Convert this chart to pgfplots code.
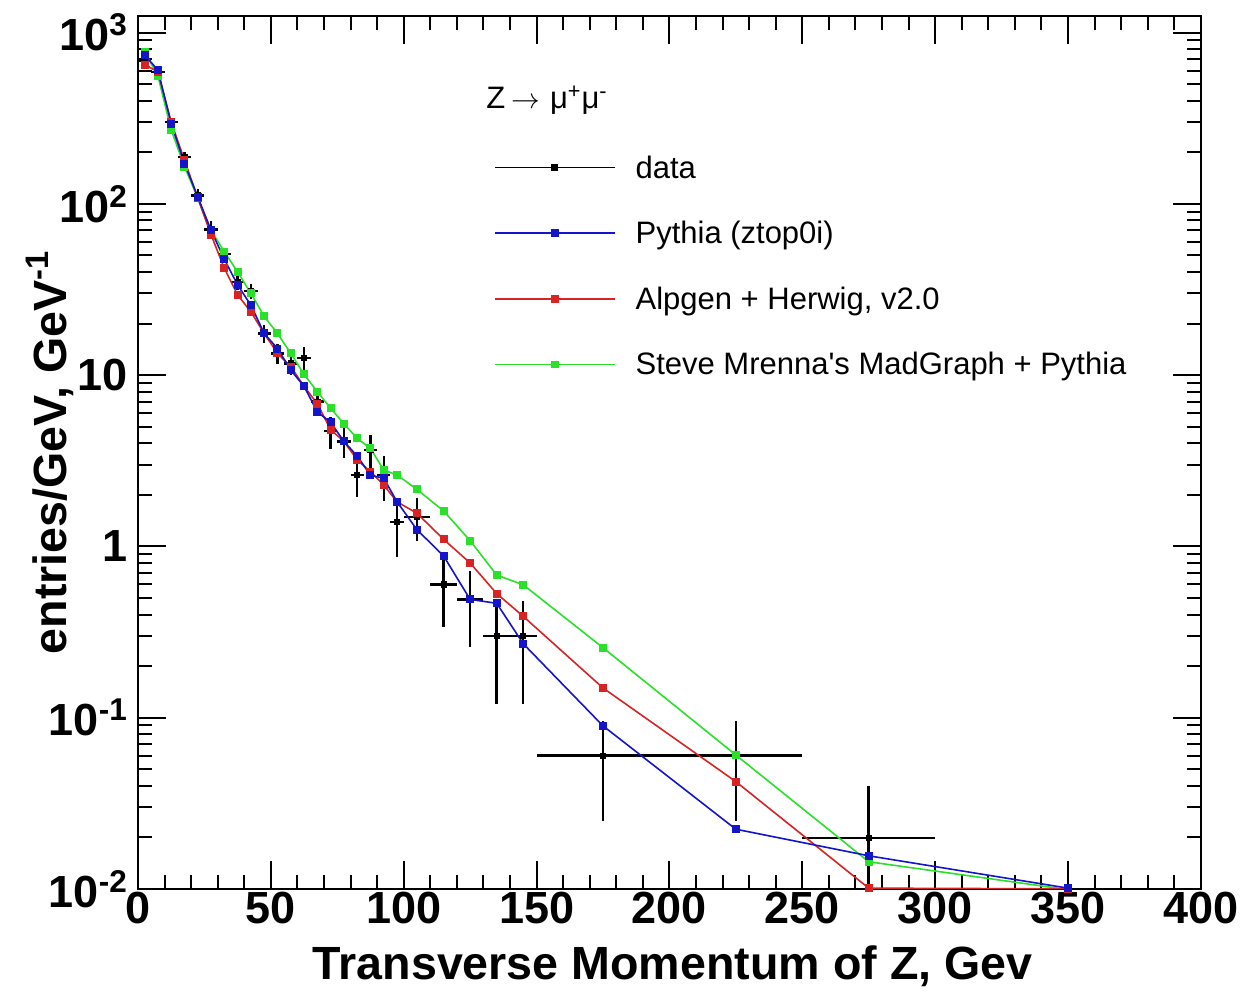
\documentclass[border=0pt]{standalone}
\usepackage{fontspec}
\setmainfont{Liberation Sans}
\usepackage{pgfplots}
\pgfplotsset{compat=1.18}
\usepackage{pgfplotstable}

\definecolor{rblue}{RGB}{20,20,200}
\definecolor{rred}{RGB}{215,35,35}
\definecolor{rgreen}{RGB}{40,225,40}

\pgfplotstableread{
x     y      ex   ey    eym
2.5   680    2.5  30    30
7.5   590    2.5  25    25
12.5  300    2.5  17    17
17.5  188    2.5  14    14
22.5  112    2.5  10    10
27.5  71     2.5  8     8
32.5  51     2.5  4.5   4.5
37.5  35     2.5  3.5   3.5
42.5  31     2.5  3.2   3.2
47.5  17.5   2.5  2.2   2.2
52.5  13.4   2.5  1.8   1.8
57.5  11.7   2.5  1.7   1.7
62.5  12.6   2.5  1.9   1.9
67.5  7.0    2.5  1.0   1.0
72.5  4.7    2.5  1.0   1.0
77.5  4.1    2.5  0.8   0.8
82.5  2.6    2.5  0.65  0.65
87.5  3.66   2.5  0.78  0.78
92.5  2.6    2.5  0.75  0.75
97.5  1.39   2.5  0.52  0.52
105   1.49   5    0.42  0.42
115   0.60   5    0.26  0.26
125   0.49   5    0.23  0.23
135   0.30   5    0.18  0.18
145   0.30   5    0.18  0.18
175   0.060  25   0.035 0.035
225   0.060  25   0.035 0.035
275   0.0198 25   0.020 0.0196
}\datatab

\pgfplotstableread{
x y
2.5 740
7.5 604
12.5 294
17.5 172
22.5 110
27.5 70
32.5 47.5
37.5 33.6
42.5 25.6
47.5 17.5
52.5 14.3
57.5 10.7
62.5 8.6
67.5 6.1
72.5 5.3
77.5 4.1
82.5 3.37
87.5 2.6
92.5 2.5
97.5 1.82
105 1.25
115 0.88
125 0.49
135 0.465
145 0.27
175 0.0895
225 0.0223
275 0.0156
350 0.0101
}\pythia

\pgfplotstableread{
x y
2.5 650
7.5 590
12.5 300
17.5 180
22.5 108
27.5 66
32.5 42
37.5 29.4
42.5 23.4
47.5 17.5
52.5 13.4
57.5 11.2
62.5 8.6
67.5 6.8
72.5 4.8
77.5 4.1
82.5 3.2
87.5 2.73
92.5 2.28
97.5 1.82
105 1.56
115 1.10
125 0.80
135 0.53
145 0.39
175 0.149
225 0.0423
275 0.0101
350 0.0100
}\alpgen

\pgfplotstableread{
x y
2.5 773
7.5 560
12.5 270
17.5 165
22.5 108
27.5 70
32.5 52.5
37.5 40
42.5 30
47.5 22
52.5 17.5
57.5 13.4
62.5 10.1
67.5 8.0
72.5 6.4
77.5 5.2
82.5 4.27
87.5 3.73
92.5 2.79
97.5 2.61
105 2.15
115 1.61
125 1.08
135 0.68
145 0.596
175 0.256
225 0.0605
275 0.0144
350 0.0099
}\madgraph

\begin{document}
\begin{tikzpicture}
\begin{axis}[
  scale only axis,
  width=531.5bp, height=436.5bp,
  xmin=0, xmax=400,
  ymode=log, ymin=0.01, ymax=1250,
  xtick={0,50,...,400},
  xticklabels={0,50,100,150,200,250,300,350,400},
  minor x tick num=4,
  ytick={0.01,0.1,1,10,100,1000},
  yticklabels={10\textsuperscript{-2},10\textsuperscript{-1},1,10,10\textsuperscript{2},10\textsuperscript{3}},
  minor ytick={0.02,0.03,0.04,0.05,0.06,0.07,0.08,0.09,
               0.2,0.3,0.4,0.5,0.6,0.7,0.8,0.9,
               2,3,4,5,6,7,8,9,
               20,30,40,50,60,70,80,90,
               200,300,400,500,600,700,800,900},
  tick align=inside,
  major tick length=14bp,
  minor tick length=7bp,
  tick style={line width=1bp, black},
  axis line style={line width=1.3bp},
  tick label style={font=\bfseries\fontsize{22.5bp}{26bp}\selectfont},
  xticklabel style={yshift=2bp},
  yticklabel style={xshift=-1.5bp},
  label style={font=\bfseries\fontsize{23.3bp}{27bp}\selectfont},
  xlabel={Transverse Momentum of Z, Gev},
  ylabel={entries/GeV, GeV\textsuperscript{-1}},
  xlabel style={at={(axis description cs:0.503,-0.0882)}, anchor=center},
  ylabel style={at={(axis description cs:-0.0825,0.5)}, anchor=center},
  legend cell align=left,
  legend style={draw=none, fill=none,
    at={(rel axis cs:0.329,0.8445)}, anchor=north west,
    font=\fontsize{15.5bp}{18bp}\selectfont,
    row sep=18.3bp, column sep=10bp,
    nodes={inner sep=0pt, text height=11bp, text depth=3.5bp}},
  legend image code/.code={\draw[#1,mark repeat=2,mark phase=2] plot coordinates {(0bp,1.5bp) (30bp,1.5bp) (60bp,1.5bp)};},
]
\coordinate (ll) at (rel axis cs:0,0);
\coordinate (ur) at (rel axis cs:1,1);

% data
\addplot[forget plot, only marks, black, mark=square*, mark size=1.3bp,
  error bars/.cd, x dir=both, x explicit, y dir=both, y explicit,
  error mark=none, error bar style={line width=1.2bp, black}]
  table[x=x, y=y, x error=ex, y error plus=ey, y error minus=eym] {\datatab};

\addplot[forget plot, rgreen, line width=0.8bp, mark=square*, mark size=1.6bp] table[x=x,y=y] {\madgraph};
\addplot[forget plot, rred, line width=0.8bp, mark=square*, mark size=1.6bp] table[x=x,y=y] {\alpgen};
\addplot[forget plot, rblue, line width=0.8bp, mark=square*, mark size=1.6bp] table[x=x,y=y] {\pythia};

\addlegendimage{black, line width=0.8bp, mark=square*, mark size=1.3bp}
\addlegendentry{data}
\addlegendimage{rblue, line width=0.8bp, mark=square*, mark size=1.5bp}
\addlegendentry{Pythia (ztop0i)}
\addlegendimage{rred, line width=0.8bp, mark=square*, mark size=1.5bp}
\addlegendentry{Alpgen + Herwig, v2.0}
\addlegendimage{rgreen, line width=0.8bp, mark=square*, mark size=1.5bp}
\addlegendentry{Steve Mrenna\textquotesingle s MadGraph + Pythia}

\node[anchor=west, inner sep=0pt, font=\fontsize{15.5bp}{18bp}\selectfont] at (axis cs:131,404) {Z\hspace{3bp}$\rightarrow$\hspace{5bp}μ\textsuperscript{+}μ\textsuperscript{-}};
\end{axis}
\path ([shift={(-69bp,-51bp)}]ll) rectangle ([shift={(22bp,8bp)}]ur);
\end{tikzpicture}
\end{document}
